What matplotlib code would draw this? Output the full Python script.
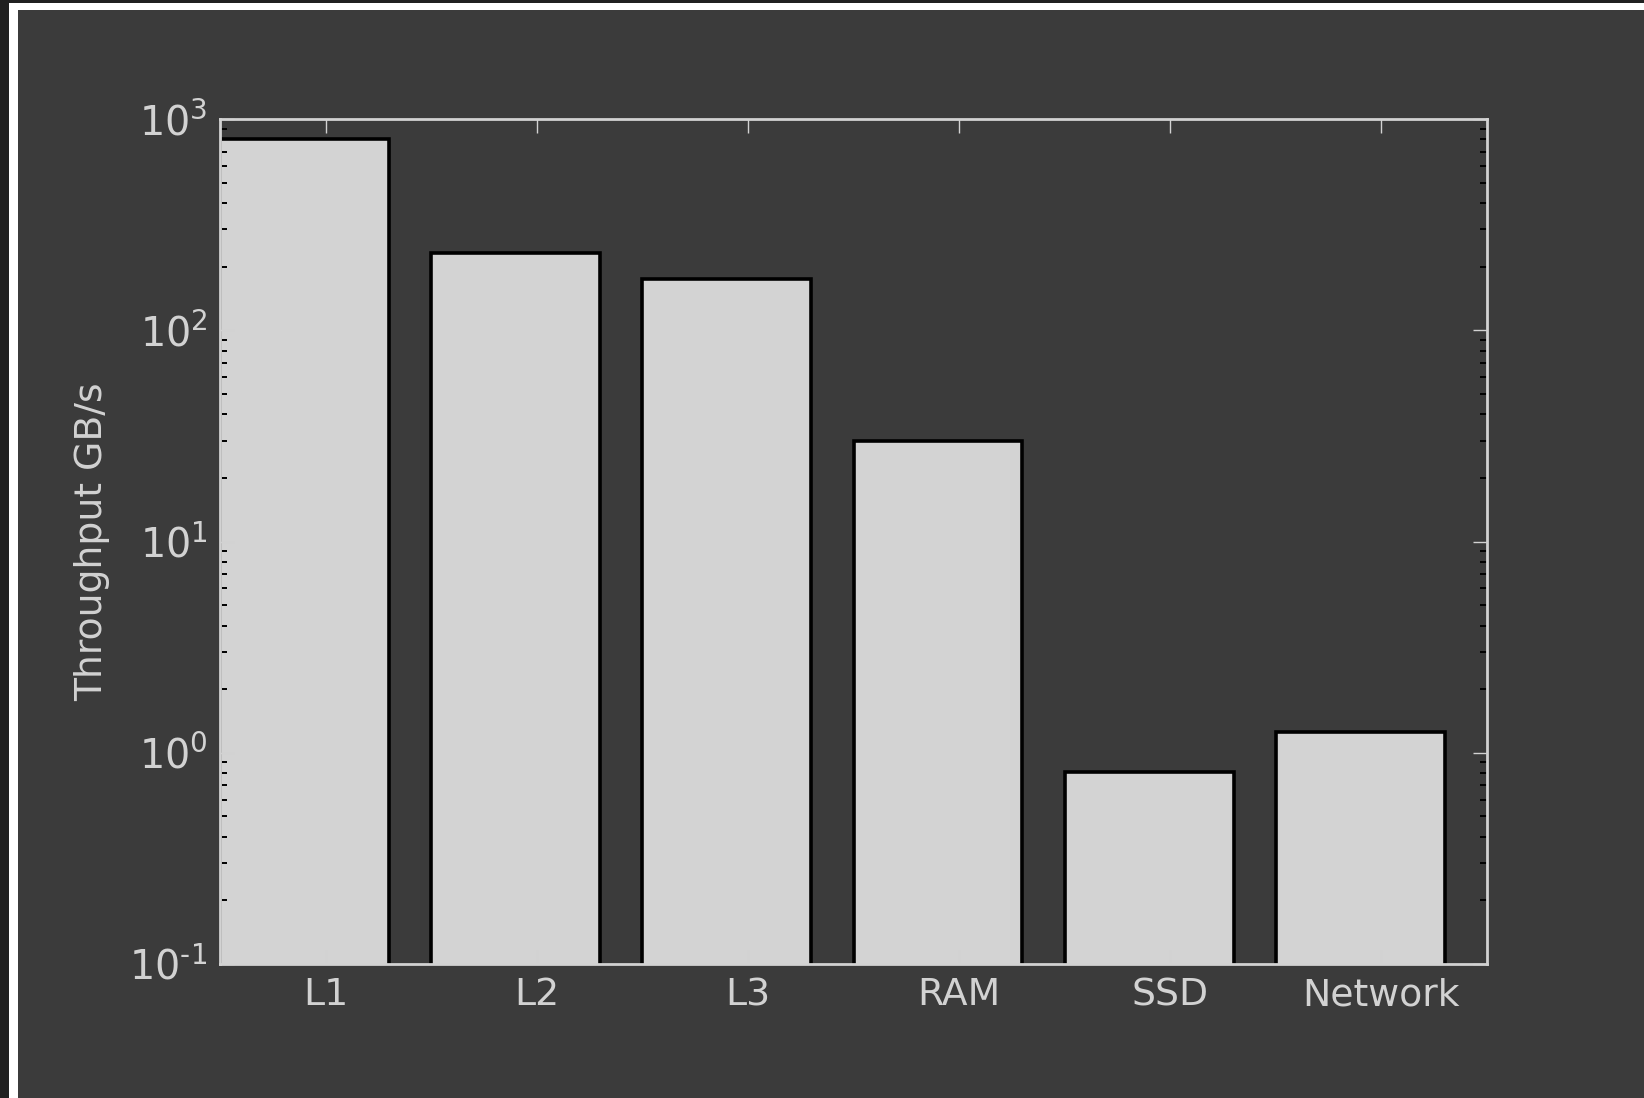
import numpy as np
import matplotlib
matplotlib.use("Agg")
import matplotlib.pyplot as plt
from matplotlib.patches import Rectangle
from matplotlib.ticker import LogLocator, FuncFormatter

# throughput per storage tier, GB/s
tiers = ["L1", "L2", "L3", "RAM", "SSD", "Network"]
throughput = [800, 233, 175, 30, 0.81, 1.25]

bg = "#3b3b3b"
fg = "#d2d2d2"

plt.rcParams["axes.unicode_minus"] = False
plt.rcParams["font.size"] = 13.6

fig = plt.figure(figsize=(8.22, 5.49), dpi=200, facecolor=bg)

# dark strip plus white frame along the left and top edges
fig.patches.append(Rectangle((0, 0), 1, 1, transform=fig.transFigure,
                             facecolor="#202020", edgecolor="none", zorder=-3))
fig.patches.append(Rectangle((9 / 1644, 0), 1, 1 - 3 / 1098, transform=fig.transFigure,
                             facecolor="white", edgecolor="none", zorder=-2))
fig.patches.append(Rectangle((18 / 1644, 0), 1, 1 - 10 / 1098, transform=fig.transFigure,
                             facecolor=bg, edgecolor="none", zorder=-1))

ax = fig.add_axes([220 / 1644, 1 - 964 / 1098, (1487 - 220) / 1644, (964 - 119) / 1098])
ax.set_facecolor(bg)

x = np.arange(len(tiers))
ax.bar(x, throughput, width=0.8, align="edge", color="lightgray",
       edgecolor="black", linewidth=1.3)

ax.set_yscale("log")
ax.set_ylim(0.1, 1000)
ax.set_xlim(0, len(tiers))
ax.set_xticks(x + 0.5)
ax.set_xticklabels(tiers)
ax.yaxis.set_minor_locator(LogLocator(base=10, subs=np.arange(2, 10)))


def pow10(v, pos):
    e = int(round(np.log10(v)))
    if e < 0:
        return r"$10^{\text{-}%d}$" % -e
    return r"$10^{%d}$" % e


ax.yaxis.set_major_formatter(FuncFormatter(pow10))

ax.set_ylabel("Throughput GB/s", color=fg, labelpad=7)

for s in ax.spines.values():
    s.set_color(fg)
    s.set_linewidth(1.0)

ax.tick_params(which="both", direction="in", top=True, right=True)
ax.tick_params(which="major", length=5, width=0.5, color=fg, labelcolor=fg)
ax.tick_params(axis="x", which="major", pad=4.8)
ax.tick_params(axis="y", which="major", pad=4.5, labelsize=14.3)
ax.tick_params(which="minor", length=2.5, width=0.7, color="black")
ax.tick_params(axis="x", which="minor", top=False, bottom=False)

fig.savefig("out.png", dpi=200, facecolor=bg)
